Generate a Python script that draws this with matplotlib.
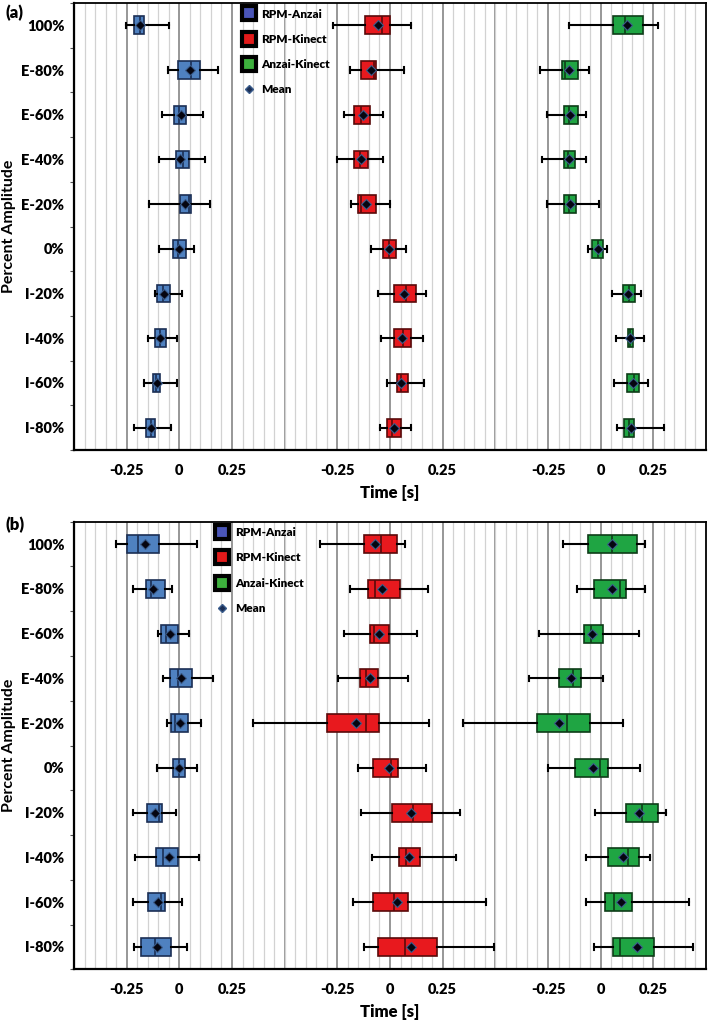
import matplotlib
matplotlib.use("Agg")
import matplotlib.pyplot as plt
from matplotlib.lines import Line2D
import numpy as np

plt.rcParams['font.family'] = ['Lato', 'DejaVu Sans']
plt.rcParams['font.weight'] = 'bold'
W = 'heavy'

categories = ["100%", "E-80%", "E-60%", "E-40%", "E-20%", "0%",
              "I-20%", "I-40%", "I-60%", "I-80%"]
series_names = ["RPM-Anzai", "RPM-Kinect", "Anzai-Kinect"]
group_ticks = [-0.25, 0, 0.25]
tick_text = ["-0.25", "0", "0.25"]

# ---------- Panel (a) ----------
a_ra_lo   = [-0.253, -0.055, -0.082, -0.095, -0.144, -0.095, -0.116, -0.147, -0.166, -0.215]
a_ra_q1   = [-0.214, -0.005, -0.024, -0.017, 0.002, -0.028, -0.108, -0.117, -0.127, -0.160]
a_ra_med  = [-0.188, 0.054, -0.003, 0.017, 0.046, -0.005, -0.079, -0.094, -0.111, -0.135]
a_ra_q3   = [-0.166, 0.098, 0.032, 0.046, 0.054, 0.030, -0.044, -0.063, -0.092, -0.114]
a_ra_hi   = [-0.048, 0.182, 0.114, 0.122, 0.144, 0.068, 0.011, -0.013, -0.013, -0.041]
a_ra_mean = [-0.185, 0.051, 0.008, 0.005, 0.027, -0.003, -0.073, -0.090, -0.106, -0.133]

a_rk_lo   = [-0.269, -0.190, -0.218, -0.250, -0.183, -0.091, -0.055, -0.044, -0.012, -0.046]
a_rk_q1   = [-0.118, -0.139, -0.171, -0.171, -0.153, -0.033, 0.019, 0.019, 0.032, -0.012]
a_rk_med  = [-0.036, -0.076, -0.136, -0.144, -0.136, -0.003, 0.078, 0.064, 0.051, 0.008]
a_rk_q3   = [-0.001, -0.068, -0.093, -0.103, -0.068, 0.030, 0.122, 0.098, 0.086, 0.051]
a_rk_hi   = [0.098, 0.067, -0.034, -0.033, -0.001, 0.078, 0.170, 0.157, 0.160, 0.100]
a_rk_mean = [-0.055, -0.091, -0.128, -0.139, -0.112, -0.006, 0.067, 0.056, 0.054, 0.019]

a_ak_lo   = [-0.152, -0.286, -0.254, -0.278, -0.254, -0.060, 0.054, 0.073, 0.065, 0.079]
a_ak_q1   = [0.058, -0.183, -0.172, -0.172, -0.172, -0.039, 0.106, 0.128, 0.125, 0.112]
a_ak_med  = [0.117, -0.167, -0.152, -0.155, -0.152, -0.013, 0.136, 0.141, 0.156, 0.133]
a_ak_q3   = [0.201, -0.109, -0.109, -0.120, -0.115, 0.011, 0.161, 0.153, 0.182, 0.160]
a_ak_hi   = [0.272, -0.057, -0.068, -0.071, -0.006, 0.032, 0.191, 0.205, 0.224, 0.303]
a_ak_mean = [0.125, -0.152, -0.144, -0.152, -0.147, -0.013, 0.130, 0.141, 0.153, 0.145]

# ---------- Panel (b) ----------
b_ra_lo   = [-0.303, -0.221, -0.100, -0.076, -0.057, -0.108, -0.221, -0.209, -0.221, -0.215]
b_ra_q1   = [-0.248, -0.158, -0.088, -0.046, -0.039, -0.028, -0.155, -0.109, -0.147, -0.182]
b_ra_med  = [-0.198, -0.133, -0.062, -0.008, -0.020, 0.000, -0.098, -0.076, -0.087, -0.117]
b_ra_q3   = [-0.096, -0.068, -0.008, 0.060, 0.043, 0.025, -0.081, -0.006, -0.068, -0.039]
b_ra_hi   = [0.084, -0.036, 0.044, 0.160, 0.103, 0.084, -0.014, 0.095, 0.011, 0.036]
b_ra_mean = [-0.163, -0.123, -0.044, 0.009, 0.003, 0.000, -0.115, -0.051, -0.100, -0.106]

b_rk_lo   = [-0.333, -0.190, -0.218, -0.246, -0.649, -0.150, -0.136, -0.087, -0.174, -0.123]
b_rk_q1   = [-0.123, -0.103, -0.096, -0.142, -0.297, -0.081, 0.011, 0.043, -0.079, -0.055]
b_rk_med  = [-0.041, -0.071, -0.076, -0.115, -0.115, 0.005, 0.111, 0.077, 0.019, 0.070]
b_rk_q3   = [0.035, 0.046, -0.003, -0.057, -0.052, 0.039, 0.198, 0.144, 0.087, 0.221]
b_rk_hi   = [0.071, 0.182, 0.128, 0.084, 0.185, 0.169, 0.332, 0.311, 0.458, 0.494]
b_rk_mean = [-0.071, -0.036, -0.052, -0.096, -0.160, -0.005, 0.101, 0.090, 0.032, 0.098]

b_ak_lo   = [-0.178, -0.114, -0.291, -0.341, -0.655, -0.250, -0.025, -0.070, -0.070, -0.033]
b_ak_q1   = [-0.060, -0.032, -0.079, -0.198, -0.300, -0.120, 0.120, 0.033, 0.020, 0.058]
b_ak_med  = [0.054, 0.090, -0.044, -0.131, -0.160, -0.002, 0.196, 0.128, 0.062, 0.093]
b_ak_q3   = [0.172, 0.120, 0.013, -0.093, -0.049, 0.033, 0.270, 0.182, 0.148, 0.251]
b_ak_hi   = [0.212, 0.212, 0.183, 0.011, 0.106, 0.188, 0.310, 0.235, 0.417, 0.436]
b_ak_mean = [0.054, 0.052, -0.041, -0.139, -0.199, -0.036, 0.180, 0.107, 0.095, 0.172]

panel_a = [
    (a_ra_lo, a_ra_q1, a_ra_med, a_ra_q3, a_ra_hi, a_ra_mean),
    (a_rk_lo, a_rk_q1, a_rk_med, a_rk_q3, a_rk_hi, a_rk_mean),
    (a_ak_lo, a_ak_q1, a_ak_med, a_ak_q3, a_ak_hi, a_ak_mean),
]
panel_b = [
    (b_ra_lo, b_ra_q1, b_ra_med, b_ra_q3, b_ra_hi, b_ra_mean),
    (b_rk_lo, b_rk_q1, b_rk_med, b_rk_q3, b_rk_hi, b_rk_mean),
    (b_ak_lo, b_ak_q1, b_ak_med, b_ak_q3, b_ak_hi, b_ak_mean),
]

face_colors = ['#4F81C0', '#E8191E', '#1FA543']
edge_colors = ['#1B2F55', '#5A0A0A', '#0E3D18']
legend_colors = ['#4A55B8', '#E21A1A', '#3DB03D']

fig = plt.figure(figsize=(7.09, 10.21), dpi=100)
ax_a = fig.add_axes([74/709, 1-450/1021, 632/709, 447/1021])
ax_b = fig.add_axes([74/709, 1-969.3/1021, 632/709, 447.6/1021])


def draw_panel(ax, data, leg_anchor):
    ax.set_xlim(-0.5, 2.5)
    ax.set_ylim(9.5, -0.5)
    # grid
    ax.set_xticks(np.arange(-0.5, 2.5001, 0.05), minor=True)
    ax.grid(True, which='minor', axis='x', color='#d2d2d2', lw=0.9, zorder=0)
    majors = np.arange(-0.25, 2.4, 0.25)
    for m in majors:
        ax.axvline(m, color='#7a7a7a', lw=1.1, zorder=0.5)
    ax.set_axisbelow(True)

    for g, (lo, q1, med, q3, hi, mean) in enumerate(data):
        stats = []
        for i in range(len(categories)):
            stats.append(dict(whislo=g + lo[i], q1=g + q1[i], med=g + med[i],
                              q3=g + q3[i], whishi=g + hi[i], mean=g + mean[i],
                              fliers=[], label=categories[i]))
        kw = dict(positions=list(range(len(categories))), widths=0.4,
                  patch_artist=True, showmeans=True, showfliers=False,
                  manage_ticks=False,
                  boxprops=dict(facecolor=face_colors[g], edgecolor=edge_colors[g], lw=1.2),
                  medianprops=dict(color=edge_colors[g], lw=1.2),
                  whiskerprops=dict(color='black', lw=1.5),
                  capprops=dict(color='black', lw=1.5),
                  meanprops=dict(marker='D', markerfacecolor='#050510',
                                 markeredgecolor='#3A5C8C', markersize=4.8,
                                 markeredgewidth=0.8),
                  zorder=3)
        kw['capwidths'] = 0.12
        try:
            ax.bxp(stats, orientation='horizontal', **kw)
        except TypeError:
            ax.bxp(stats, vert=False, **kw)

    # x ticks: labels at -0.25, 0, 0.25 of each group
    tick_pos = []
    tick_lab = []
    for g in range(3):
        for t, s in zip(group_ticks, tick_text):
            tick_pos.append(g + t)
            tick_lab.append(s)
    ax.set_xticks(tick_pos)
    ax.set_xticklabels(tick_lab, fontsize=10.5, fontweight=W)
    ax.tick_params(axis='x', which='both', length=0, pad=10)

    ax.set_yticks(range(len(categories)))
    ax.set_yticklabels(categories, fontsize=10.5, fontweight=W)
    ax.set_yticks(np.arange(-0.5, 9.6, 1.0), minor=True)
    ax.tick_params(axis='y', which='major', length=0, pad=7)
    ax.tick_params(axis='y', which='minor', length=3, width=0.8, color='#555555')

    for sp in ax.spines.values():
        sp.set_color('black')
        sp.set_linewidth(1.3)
    ax.spines['left'].set_linewidth(1.6)
    ax.spines['bottom'].set_linewidth(1.6)

    ax.set_xlabel("Time [s]", fontsize=12, fontweight=W, labelpad=5.5)
    ax.set_ylabel("Percent Amplitude", fontsize=11.5, fontweight='bold', labelpad=4)

    handles = [Line2D([], [], ls='none', marker='s', markersize=10.5,
                      markerfacecolor=legend_colors[k], markeredgecolor='black',
                      markeredgewidth=3) for k in range(3)]
    handles.append(Line2D([], [], ls='none', marker='D', markersize=4.5,
                          markerfacecolor='#1B2F55', markeredgecolor='#3A5C8C'))
    labels = series_names + ["Mean"]
    leg = ax.legend(handles, labels, loc='upper left', bbox_to_anchor=leg_anchor,
                    frameon=False, fontsize=8.5, labelspacing=1.2,
                    handletextpad=0.45, handlelength=1.2, borderaxespad=0)
    for t in leg.get_texts():
        t.set_fontweight(W)


draw_panel(ax_a, panel_a, (0.258, 0.998))
draw_panel(ax_b, panel_b, (0.216, 0.998))

fig.text(5/709, 1-13/1021, "(a)", fontsize=12, fontweight=W, va='center', ha='left')
fig.text(5/709, 1-525/1021, "(b)", fontsize=12, fontweight=W, va='center', ha='left')

fig.savefig("out.png", dpi=100)
